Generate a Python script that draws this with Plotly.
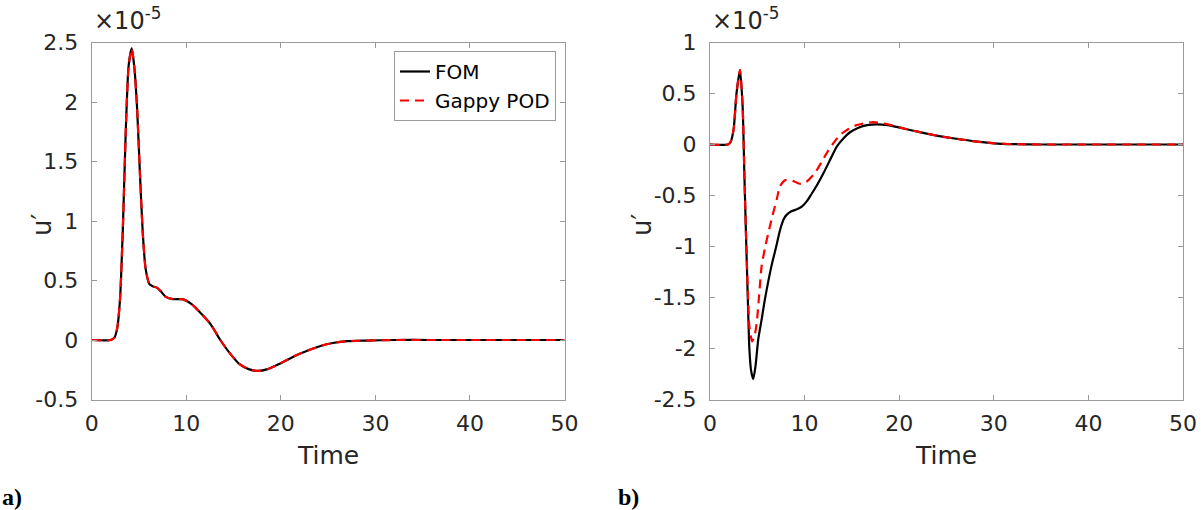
import plotly.graph_objects as go

# ---------------- data (values in units of 1e-5) ----------------
t_a = [0, 2.0, 2.4, 2.7, 3.0, 3.3, 3.6, 3.9, 4.23, 4.5, 4.8, 5.1, 5.4, 5.7, 6.1, 6.5, 6.9, 7.3,
       7.8, 8.6, 9.6, 10.6, 11.6, 12.6, 13.6, 14.6, 15.6, 16.6, 17.6, 18.6, 19.6, 20.6, 21.7,
       22.8, 24.2, 25.5, 27, 29, 32, 36, 40, 45, 50]
fom_a = [0, 0, 0.02, 0.1, 0.35, 0.95, 1.75, 2.3, 2.45, 2.3, 1.95, 1.4, 0.9, 0.6, 0.47, 0.45,
         0.44, 0.41, 0.365, 0.343, 0.343, 0.3, 0.22, 0.13, 0.0, -0.11, -0.2, -0.245, -0.26,
         -0.245, -0.21, -0.17, -0.126, -0.09, -0.05, -0.025, -0.01, -0.005, 0, 0, 0, 0, 0]
gappy_a = [0, 0, 0.02, 0.1, 0.35, 0.95, 1.75, 2.3, 2.45, 2.3, 1.95, 1.4, 0.9, 0.6, 0.47, 0.45,
           0.44, 0.41, 0.365, 0.343, 0.343, 0.3, 0.22, 0.13, 0.0, -0.11, -0.2, -0.245, -0.26,
           -0.245, -0.21, -0.17, -0.126, -0.09, -0.05, -0.025, -0.01, -0.005, 0, 0, 0, 0, 0]

t_b_fom = [0, 1.9, 2.2, 2.5, 2.8, 3.17, 3.45, 3.63, 3.8, 4.0, 4.16, 4.35, 4.57, 4.8, 5.1, 5.45,
           5.8, 6.5, 7.0, 7.4, 7.8, 8.1, 8.6, 9.2, 9.7, 10.2, 10.7, 11.3, 12.0, 12.7, 13.4, 14.1,
           14.8, 15.7, 16.6, 17.6, 18.8, 20.1, 21.5, 22.9, 24.1, 25.2, 26.5, 28, 30, 32, 35,
           40, 45, 50]
fom_b = [0, 0, 0.03, 0.15, 0.5, 0.73, 0.37, -0.28, -0.87, -1.52, -2.0, -2.22, -2.3, -2.18,
         -1.91, -1.72, -1.52, -1.19, -1.0, -0.84, -0.73, -0.69, -0.655, -0.635, -0.61, -0.56,
         -0.49, -0.4, -0.28, -0.15, -0.02, 0.06, 0.12, 0.165, 0.19, 0.198, 0.19, 0.165, 0.135,
         0.107, 0.085, 0.068, 0.05, 0.03, 0.012, 0.004, 0, 0, 0, 0]

t_b_gap = [0, 1.9, 2.2, 2.5, 2.8, 3.17, 3.45, 3.63, 3.8, 4.0, 4.16, 4.45, 4.7, 4.94, 5.2, 5.46,
           5.8, 6.16, 6.6, 7.05, 7.4, 7.93, 8.5, 8.98, 9.5, 10.0, 10.5, 11.1, 11.8, 12.5, 13.1,
           13.7, 14.6, 15.5, 16.4, 17.3, 18.7, 20.1, 21.5, 22.9, 24.1, 25.2, 26.5, 28, 30, 32,
           35, 40, 45, 50]
gappy_b = [0, 0, 0.03, 0.15, 0.5, 0.73, 0.37, -0.28, -0.87, -1.45, -1.78, -1.93, -1.88, -1.75,
           -1.47, -1.19, -1.02, -0.87, -0.7, -0.54, -0.41, -0.35, -0.35, -0.365, -0.385, -0.38,
           -0.34, -0.28, -0.17, -0.06, 0.02, 0.09, 0.15, 0.19, 0.21, 0.22, 0.2, 0.165, 0.135,
           0.107, 0.085, 0.068, 0.05, 0.03, 0.012, 0.004, 0, 0, 0, 0]

x_ticks = [0, 10, 20, 30, 40, 50]
y_ticks_a = [2.5, 2, 1.5, 1, 0.5, 0, -0.5]
y_text_a = ["2.5", "2", "1.5", "1", "0.5", "0", "-0.5"]
y_ticks_b = [1, 0.5, 0, -0.5, -1, -1.5, -2, -2.5]
y_text_b = ["1", "0.5", "0", "-0.5", "-1", "-1.5", "-2", "-2.5"]

# ---------------- figure ----------------
W, H = 1203, 510
FONT = "DejaVu Sans"
TXT = "#262626"
AX = "#9a9a9a"

fig = go.Figure()

def line(x, y, xa, ya, color, dash, name, show):
    return go.Scatter(x=x, y=y, xaxis=xa, yaxis=ya, mode="lines", name=name,
                      showlegend=show,
                      line=dict(color=color, width=2.2, dash=dash, shape="spline", smoothing=0.6))

fig.add_trace(line(t_a, fom_a, "x", "y", "black", "solid", "FOM", True))
fig.add_trace(line(t_a, gappy_a, "x", "y", "#ff0000", "9px,6px", "Gappy POD", True))
fig.add_trace(line(t_b_fom, fom_b, "x2", "y2", "black", "solid", "FOM", False))
fig.add_trace(line(t_b_gap, gappy_b, "x2", "y2", "#ff0000", "9px,6px", "Gappy POD", False))

ax_common = dict(showline=True, linecolor=AX, linewidth=1, mirror="ticks", ticks="inside",
                 ticklen=5, tickcolor=AX, showgrid=False, zeroline=False, automargin=False,
                 tickfont=dict(family=FONT, size=22, color=TXT))

y_top, y_bot = 42.5, 399.5
dom_y = [1 - y_bot / H, 1 - y_top / H]

fig.update_layout(
    width=W, height=H, margin=dict(l=0, r=0, t=0, b=0, autoexpand=False),
    paper_bgcolor="white", plot_bgcolor="white",
    xaxis=dict(domain=[91.7 / W, 564.5 / W], range=[0, 50], tickvals=x_ticks,
               anchor="y", ticklabelstandoff=4, **ax_common),
    yaxis=dict(domain=dom_y, range=[-0.5, 2.5], tickvals=y_ticks_a, ticktext=y_text_a,
               anchor="x", ticklabelstandoff=8, **ax_common),
    xaxis2=dict(domain=[710 / W, 1183 / W], range=[0, 50], tickvals=x_ticks,
                anchor="y2", ticklabelstandoff=4, **ax_common),
    yaxis2=dict(domain=dom_y, range=[-2.5, 1], tickvals=y_ticks_b, ticktext=y_text_b,
                anchor="x2", ticklabelstandoff=8, **ax_common),
    legend=dict(x=556 / W, y=1 - 51 / H, xanchor="right", yanchor="top",
                bgcolor="white", bordercolor=AX, borderwidth=1,
                font=dict(family=FONT, size=20, color="black"),
                tracegroupgap=0, itemwidth=30),
    showlegend=True,
)

ann = []
for xc in [328, 946]:
    ann.append(dict(text="Time", x=xc / W, y=1 - 455 / H, xref="paper", yref="paper",
                    showarrow=False, font=dict(family=FONT, size=25, color=TXT),
                    xanchor="center", yanchor="middle"))
for xc, yc in [(42, 225), (642, 225)]:
    ann.append(dict(text="u′", x=xc / W, y=1 - yc / H, xref="paper", yref="paper",
                    showarrow=False, textangle=-90, font=dict(family=FONT, size=26, color=TXT),
                    xanchor="center", yanchor="middle"))
for xl in [92, 710]:
    ann.append(dict(text="×10<sup>-5</sup>", x=xl / W, y=1 - 37 / H, xref="paper",
                    yref="paper", showarrow=False, font=dict(family=FONT, size=24, color=TXT),
                    xanchor="left", yanchor="bottom"))
for txt, xl in [("a)", 0), ("b)", 616)]:
    ann.append(dict(text="<b>" + txt + "</b>", x=xl / W, y=1 - 497 / H, xref="paper",
                    yref="paper", showarrow=False,
                    font=dict(family="Liberation Serif", size=24, color="black"),
                    xanchor="left", yanchor="middle"))
fig.update_layout(annotations=ann)

fig.write_html("out.html")
